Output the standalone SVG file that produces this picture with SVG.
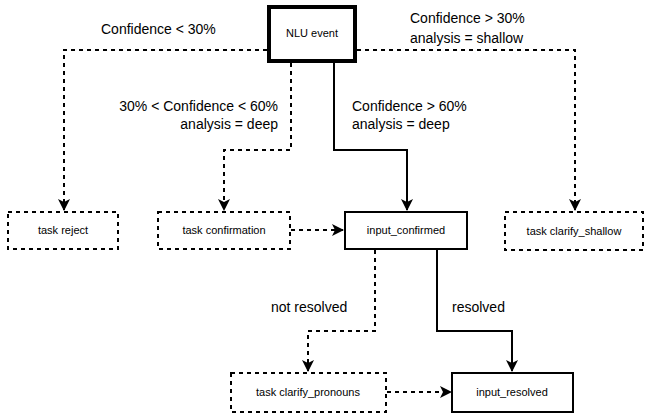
<svg xmlns="http://www.w3.org/2000/svg" width="645" height="417" viewBox="0 0 645 417">
<style>
.bg{fill:#fff}
.node{fill:#fff;stroke:#000}
.dash{stroke-width:2;stroke-dasharray:4 4}
.solid{stroke-width:2}
.nt{font-family:"Liberation Sans",Arial,sans-serif;font-size:11px;fill:#000;text-anchor:middle}
.lbl{font-family:"Liberation Sans",Arial,sans-serif;font-size:14px;fill:#000}
.c{fill:none;stroke:#000;stroke-width:2}
.cd{stroke-dasharray:4 4}
</style>
<defs>
<marker id="arr" viewBox="0 0 12 12" refX="11" refY="6" markerWidth="12" markerHeight="12" markerUnits="userSpaceOnUse" orient="auto">
<path d="M0,0 L12,6 L0,12 L3,6 Z" fill="#000"/>
</marker>
</defs>
<rect class="bg" x="0" y="0" width="645" height="417"/>
<g id="connectors">
<path class="c cd" d="M267,50 H64 V210" marker-end="url(#arr)"/>
<path class="c cd" d="M357,50 H575 V210" marker-end="url(#arr)"/>
<path class="c cd" d="M291,63 V150 H224 V210" marker-end="url(#arr)"/>
<path class="c" d="M334,63 V150 H407 V210" marker-end="url(#arr)"/>
<path class="c cd" d="M291,230 H343" marker-end="url(#arr)"/>
<path class="c cd" d="M375,250 V331 H308 V371" marker-end="url(#arr)"/>
<path class="c" d="M437,250 V331 H512 V371" marker-end="url(#arr)"/>
<path class="c cd" d="M387,392 H451" marker-end="url(#arr)"/>
</g>
<g id="labels">
<text class="lbl" x="101" y="34">Confidence &lt; 30%</text>
<text class="lbl" x="410" y="23">Confidence &gt; 30%</text>
<text class="lbl" x="410" y="43">analysis = shallow</text>
<text class="lbl" x="278" y="111" text-anchor="end">30% &lt; Confidence &lt; 60%</text>
<text class="lbl" x="278" y="129" text-anchor="end">analysis = deep</text>
<text class="lbl" x="352" y="111">Confidence &gt; 60%</text>
<text class="lbl" x="352" y="129">analysis = deep</text>
<text class="lbl" x="271" y="312">not resolved</text>
<text class="lbl" x="452" y="312">resolved</text>
</g>
<g id="nlu_event">
<rect class="node" x="269" y="7" width="86" height="54" stroke-width="4"/>
<text class="nt" x="312" y="37">NLU event</text>
</g>
<g id="task_reject">
<rect class="node dash" x="8" y="212" width="110" height="37"/>
<text class="nt" x="63" y="234">task reject</text>
</g>
<g id="task_confirmation">
<rect class="node dash" x="158" y="212" width="132" height="37"/>
<text class="nt" x="224" y="234">task confirmation</text>
</g>
<g id="input_confirmed">
<rect class="node solid" x="345" y="212" width="122" height="37"/>
<text class="nt" x="406" y="234">input_confirmed</text>
</g>
<g id="task_clarify_shallow">
<rect class="node dash" x="505" y="212" width="138" height="38"/>
<text class="nt" x="574" y="235">task clarify_shallow</text>
</g>
<g id="task_clarify_pronouns">
<rect class="node dash" x="231" y="373" width="155" height="39"/>
<text class="nt" x="308" y="396">task clarify_pronouns</text>
</g>
<g id="input_resolved">
<rect class="node solid" x="452" y="373" width="121" height="39"/>
<text class="nt" x="512" y="396">input_resolved</text>
</g>
</svg>
